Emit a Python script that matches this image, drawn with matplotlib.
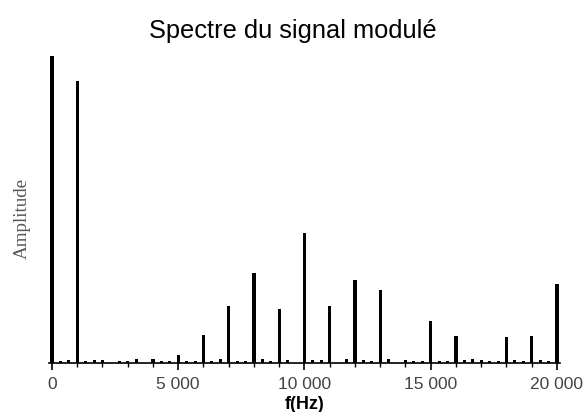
import matplotlib
matplotlib.use("Agg")
import matplotlib.pyplot as plt
from matplotlib.ticker import MultipleLocator

# main spectral lines (Hz, normalised amplitude)
main_freqs = [0, 1000, 6000, 7000, 8000, 9000, 10000, 11000, 12000,
              13000, 15000, 16000, 18000, 19000, 20000]
main_amps = [1.0, 0.92, 0.093, 0.188, 0.294, 0.176, 0.423, 0.188, 0.27,
             0.238, 0.138, 0.089, 0.086, 0.089, 0.257]

# small residual lines
small_freqs = [333, 667, 1333, 1667, 2000, 2667, 3000, 3333, 4000, 4333,
               4667, 5000, 5333, 5667, 6333, 6667, 7333, 7667, 8333, 8667,
               9333, 10333, 10667, 11667, 12333, 12667, 13333, 14000, 14333,
               14667, 15333, 15667, 16333, 16667, 17000, 17333, 17667, 18333,
               18667, 19333, 19667]
small_amps = [0.007, 0.01, 0.007, 0.01, 0.01, 0.007, 0.007, 0.013, 0.013,
              0.007, 0.007, 0.026, 0.007, 0.007, 0.007, 0.013, 0.007, 0.007,
              0.013, 0.007, 0.01, 0.01, 0.01, 0.013, 0.01, 0.007, 0.013,
              0.01, 0.007, 0.007, 0.007, 0.007, 0.01, 0.013, 0.01, 0.007,
              0.007, 0.01, 0.007, 0.01, 0.007]

tick_vals = [0, 5000, 10000, 15000, 20000]
tick_labels = ["0", "5 000", "10 000", "15 000", "20 000"]

fig = plt.figure(figsize=(5.85, 4.12), dpi=100)
ax = fig.add_axes([0.0837, 0.1182, 0.8736, 0.7459])

ax.bar(main_freqs, main_amps, width=120, color="black", linewidth=0)
ax.bar(small_freqs, small_amps, width=120, color="black", linewidth=0)

ax.set_xlim(-120, 20120)
ax.set_ylim(0, 1.0)

for side in ("left", "top", "right"):
    ax.spines[side].set_visible(False)
ax.spines["bottom"].set_linewidth(1.2)
ax.set_yticks([])

ax.set_xticks(tick_vals)
ax.set_xticklabels(tick_labels, fontfamily="Liberation Sans", fontsize=12.5,
                   color="#444444")
ax.xaxis.set_minor_locator(MultipleLocator(1000))
ax.tick_params(axis="x", which="major", length=5, width=1.2, direction="out",
               pad=5)
ax.tick_params(axis="x", which="minor", length=3, width=1.0, direction="out")

# the reference crops the bottom of this label at the image edge
ax.set_xlabel("f(Hz)", fontfamily="Liberation Sans", fontsize=13,
              fontweight="bold", labelpad=3)
ax.set_ylabel("Amplitude", fontfamily="Liberation Serif", fontsize=13.7,
              color="#555555")
ax.yaxis.set_label_coords(-0.035, 0.47)
fig.text(0.5, 0.925, "Spectre du signal modulé", ha="center", va="center",
         fontfamily="Liberation Sans", fontsize=18.3)

fig.savefig("out.png", dpi=100)
